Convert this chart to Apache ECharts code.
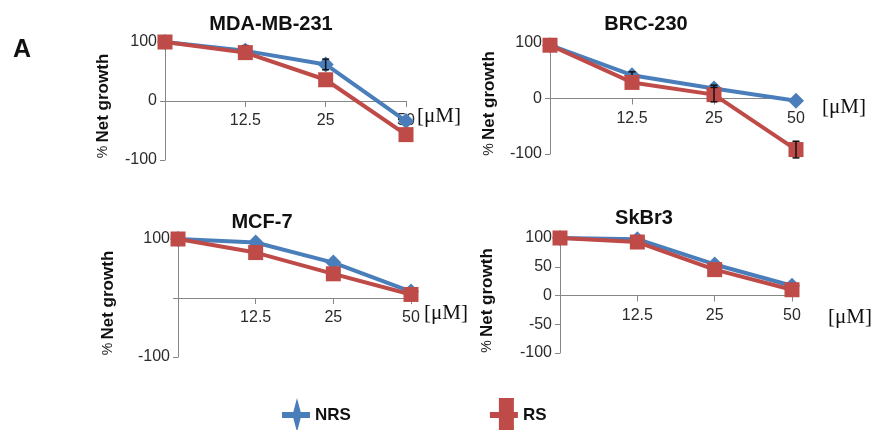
<!DOCTYPE html>
<html>
<head>
<meta charset="utf-8">
<script src="https://cdn.jsdelivr.net/npm/echarts@6/dist/echarts.min.js"></script>
<style>
  html, body { margin: 0; padding: 0; background: #fff; }
  #chart { width: 879px; height: 430px; }
</style>
</head>
<body>
<div id="chart"></div>
<script>
// Dose categories (µM); the untreated control is left unlabeled
const doseLabels = ['', '12.5', '25', '50'];
const panelTitles = ['MDA-MB-231', 'BRC-230', 'MCF-7', 'SkBr3'];
const unitLabel = '[\u03bcM]';

// % net growth per cell line
const nrsMDA = [100, 85, 62, -34];
const rsMDA  = [100, 82, 36, -57];
const nrsBRC = [96, 42, 18, -4];
const rsBRC  = [96, 29, 7, -92];
const nrsMCF = [100, 94, 60, 11];
const rsMCF  = [100, 77, 41, 6];
const nrsSKB = [100, 98, 54, 17];
const rsSKB  = [100, 93, 45, 10];

// Error bar half-widths (0 = not drawn)
const nrsErrMDA = [0, 9, 9, 0];
const rsErrMDA  = [0, 0, 0, 0];
const nrsErrBRC = [0, 6, 6, 0];
const rsErrBRC  = [0, 0, 13, 15];
const nrsErrMCF = [0, 0, 0, 0];
const rsErrMCF  = [0, 0, 0, 0];
const nrsErrSKB = [0, 0, 0, 0];
const rsErrSKB  = [0, 0, 0, 0];

// Y tick labels shown on each panel
const yTicksMDA = [-100, 0, 100];
const yTicksBRC = [-100, 0, 100];
const yTicksMCF = [-100, 100];
const yTicksSKB = [-100, -50, 0, 50, 100];
const yStep = [100, 100, 100, 50];

const nrsSets = [nrsMDA, nrsBRC, nrsMCF, nrsSKB];
const rsSets = [rsMDA, rsBRC, rsMCF, rsSKB];
const nrsErrSets = [nrsErrMDA, nrsErrBRC, nrsErrMCF, nrsErrSKB];
const rsErrSets = [rsErrMDA, rsErrBRC, rsErrMCF, rsErrSKB];
const yTickSets = [yTicksMDA, yTicksBRC, yTicksMCF, yTicksSKB];

const BLUE = '#4a7ebb';
const RED = '#be4b48';
const AXIS = '#868686';
const FONT = '"Liberation Sans", Arial, sans-serif';

// Plot areas of the four panels
const grids = [
  { left: 165, top: 42, width: 241, height: 118 },
  { left: 550, top: 43, width: 246, height: 111 },
  { left: 178, top: 239, width: 233, height: 118 },
  { left: 560, top: 238, width: 232, height: 115 }
];
const titlePos = [[271, 24], [646, 24], [262, 222], [644, 218]];
const unitPos = [[417, 116], [822, 107], [424, 313], [828, 317]];
const nameGaps = [53, 52, 61, 64];

function renderErr(params, api) {
  const e = api.value(2);
  if (!e) return null;
  const i = api.value(0), v = api.value(1);
  const top = api.coord([i, v + e]);
  const bot = api.coord([i, v - e]);
  const w = 3.5;
  const st = { stroke: '#111', lineWidth: 1.5 };
  return {
    type: 'group',
    children: [
      { type: 'line', shape: { x1: top[0], y1: top[1], x2: bot[0], y2: bot[1] }, style: st },
      { type: 'line', shape: { x1: top[0] - w, y1: top[1], x2: top[0] + w, y2: top[1] }, style: st },
      { type: 'line', shape: { x1: bot[0] - w, y1: bot[1], x2: bot[0] + w, y2: bot[1] }, style: st }
    ]
  };
}

const xAxes = [], yAxes = [], series = [];
grids.forEach((g, p) => {
  // labels sit just under the zero line, which runs through the middle of each plot
  const labelMargin = 12 - g.height / 2;
  xAxes.push({
    type: 'category', gridIndex: p, data: doseLabels, boundaryGap: false,
    axisLine: { onZero: true, lineStyle: { color: AXIS, width: 1 } },
    axisTick: { show: true, length: 6, alignWithLabel: true, lineStyle: { color: AXIS } },
    axisLabel: { color: '#2b2b2b', fontSize: 16, fontFamily: FONT, margin: labelMargin, interval: 0 },
    splitLine: { show: false }
  });
  const shown = yTickSets[p];
  yAxes.push({
    type: 'value', gridIndex: p, min: -100, max: 100, interval: yStep[p],
    axisLine: { show: true, lineStyle: { color: AXIS, width: 1 } },
    axisTick: { show: true, length: 5, lineStyle: { color: AXIS } },
    axisLabel: {
      color: '#2b2b2b', fontSize: 16, fontFamily: FONT, margin: 8,
      formatter: v => (shown.indexOf(v) >= 0 ? String(v) : '')
    },
    splitLine: { show: false },
    name: '{p|%} {b|Net growth}', nameLocation: 'middle', nameRotate: 90, nameGap: nameGaps[p],
    nameTextStyle: {
      padding: [0, 10, 0, 0],
      rich: {
        p: { fontSize: 14, fontFamily: FONT, color: '#222' },
        b: { fontSize: 17, fontWeight: 'bold', fontFamily: FONT, color: '#111' }
      }
    }
  });
  series.push({
    name: 'NRS', type: 'line', xAxisIndex: p, yAxisIndex: p, data: nrsSets[p],
    symbol: 'diamond', symbolSize: 16, showAllSymbol: true,
    lineStyle: { color: BLUE, width: 4 }, itemStyle: { color: BLUE }, z: 2, animation: false
  });
  series.push({
    name: 'NRS error', type: 'custom', xAxisIndex: p, yAxisIndex: p,
    data: nrsSets[p].map((v, k) => [k, v, nrsErrSets[p][k]]),
    renderItem: renderErr, z: 3, animation: false, silent: true
  });
  series.push({
    name: 'RS', type: 'line', xAxisIndex: p, yAxisIndex: p, data: rsSets[p],
    symbol: 'rect', symbolSize: 15, showAllSymbol: true,
    lineStyle: { color: RED, width: 4 }, itemStyle: { color: RED }, z: 4, animation: false
  });
  series.push({
    name: 'RS error', type: 'custom', xAxisIndex: p, yAxisIndex: p,
    data: rsSets[p].map((v, k) => [k, v, rsErrSets[p][k]]),
    renderItem: renderErr, z: 5, animation: false, silent: true
  });
});

const graphics = [
  { type: 'text', x: 13, y: 38, style: { text: 'A', font: 'bold 25px ' + FONT, fill: '#111' } }
];
panelTitles.forEach((t, p) => {
  graphics.push({
    type: 'text', x: titlePos[p][0], y: titlePos[p][1],
    style: { text: t, font: 'bold 20px ' + FONT, fill: '#111', align: 'center', verticalAlign: 'middle' }
  });
  graphics.push({
    type: 'text', x: unitPos[p][0], y: unitPos[p][1],
    style: { text: unitLabel, font: '21px "Liberation Serif", "Times New Roman", serif', fill: '#111', align: 'left', verticalAlign: 'middle' }
  });
});

const chart = echarts.init(document.getElementById('chart'), null, { renderer: 'canvas' });
chart.setOption({
  backgroundColor: '#fff',
  animation: false,
  textStyle: { fontFamily: FONT },
  grid: grids,
  xAxis: xAxes,
  yAxis: yAxes,
  series: series,
  graphic: graphics,
  legend: {
    left: 277, top: 393, itemWidth: 28, itemHeight: 34, itemGap: 139,
    selectedMode: false,
    textStyle: { fontSize: 17, fontWeight: 'bold', color: '#111', fontFamily: FONT, padding: [0, 0, 0, 0] },
    data: [
      { name: 'NRS', icon: 'path://M0,14 L28,14 L28,20 L0,20 Z M15,0 L19.5,17 L15,34 L10.5,17 Z', itemStyle: { color: BLUE } },
      { name: 'RS', icon: 'path://M0,14 L28,14 L28,20 L0,20 Z M9,0 L24,0 L24,34 L9,34 Z', itemStyle: { color: RED } }
    ]
  }
});
</script>
</body>
</html>
